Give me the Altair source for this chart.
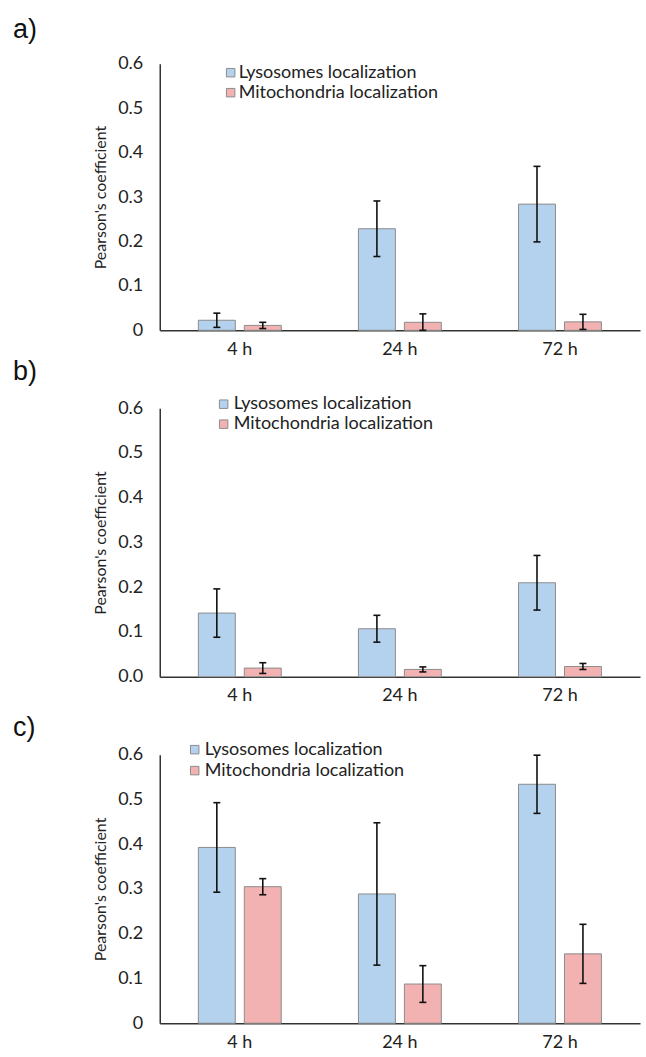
import altair as alt
import pandas as pd

times = ["4 h", "24 h", "72 h"]
series = ["Lysosomes localization", "Mitochondria localization"]
panel_labels = ["a)", "b)", "c)"]

a_lyso = [0.0226, 0.2286, 0.284]
a_lyso_err = [0.016, 0.0625, 0.085]
a_mito = [0.011, 0.018, 0.019]
a_mito_err = [0.007, 0.019, 0.017]

b_lyso = [0.1423, 0.1073, 0.210]
b_lyso_err = [0.054, 0.030, 0.061]
b_mito = [0.0194, 0.0164, 0.023]
b_mito_err = [0.012, 0.0056, 0.0067]

c_lyso = [0.3927, 0.2888, 0.5338]
c_lyso_err = [0.100, 0.159, 0.065]
c_mito = [0.305, 0.0876, 0.155]
c_mito_err = [0.018, 0.041, 0.066]

y_ticks = [0, 0.1, 0.2, 0.3, 0.4, 0.5, 0.6]

BLUE = "#b4d2ee"
RED = "#f3b2b2"
EDGE = "#8c8c8c"
FONT = "Lato"


def panel(label, lyso, lyso_err, mito, mito_err, h, zero_fmt, leg, lab_y):
    rows = []
    for i, t in enumerate(times):
        rows.append({"time": t, "series": series[0], "value": lyso[i], "err": lyso_err[i]})
        rows.append({"time": t, "series": series[1], "value": mito[i], "err": mito_err[i]})
    df = pd.DataFrame(rows)
    df["lo"] = (df["value"] - df["err"]).clip(lower=0)
    df["hi"] = df["value"] + df["err"]

    x = alt.X("time:N", sort=times, scale=alt.Scale(paddingInner=0, paddingOuter=0),
              axis=alt.Axis(title=None, labelAngle=0, labelPadding=10))
    xo = alt.XOffset("series:N", sort=series,
                     scale=alt.Scale(paddingInner=0.196, paddingOuter=0.84))
    yscale = alt.Scale(domain=[0, 0.6], nice=False)
    if zero_fmt:
        lexpr = "datum.value == 0 ? '0' : format(datum.value, '.1f')"
    else:
        lexpr = "format(datum.value, '.1f')"
    yaxis = alt.Axis(values=y_ticks, labelExpr=lexpr, title="Pearson's coefficient",
                     labelPadding=17, titlePadding=9)

    base = alt.Chart(df)
    bars = base.mark_bar(stroke=EDGE, strokeWidth=1).encode(
        x=x, xOffset=xo,
        y=alt.Y("value:Q", scale=yscale, axis=yaxis),
        color=alt.Color("series:N", scale=alt.Scale(domain=series, range=[BLUE, RED]), legend=None),
    )
    rules = base.mark_rule(color="#111111", strokeWidth=1.6).encode(
        x=x, xOffset=xo, y=alt.Y("lo:Q", scale=yscale), y2="hi:Q")
    cap_lo = base.mark_tick(orient="horizontal", size=7, thickness=1.6, color="#111111", opacity=1).encode(
        x=x, xOffset=xo, y=alt.Y("lo:Q", scale=yscale))
    cap_hi = base.mark_tick(orient="horizontal", size=7, thickness=1.6, color="#111111", opacity=1).encode(
        x=x, xOffset=xo, y=alt.Y("hi:Q", scale=yscale))

    layers = [bars, rules, cap_lo, cap_hi]
    sx, tx, y1, y2 = leg
    for name, col, yy in [(series[0], BLUE, y1), (series[1], RED, y2)]:
        d = pd.DataFrame({"t": [name]})
        layers.append(alt.Chart(d).mark_square(size=72, fill=col, stroke=EDGE, strokeWidth=1, opacity=1).encode(
            x=alt.value(sx), y=alt.value(yy)))
        layers.append(alt.Chart(d).mark_text(align="left", baseline="middle", font=FONT, fontSize=18,
                                             color="#222222").encode(
            x=alt.value(tx), y=alt.value(yy), text="t:N"))
    dl = pd.DataFrame({"t": [label]})
    layers.append(alt.Chart(dl).mark_text(align="left", baseline="alphabetic", font="Liberation Sans",
                                          fontSize=27, color="#111111").encode(
        x=alt.value(-147), y=alt.value(lab_y), text="t:N"))
    return alt.layer(*layers).properties(width=481, height=h)


pa = panel(panel_labels[0], a_lyso, a_lyso_err, a_mito, a_mito_err, 267, True, (71, 79, 9, 29), -26)
pb = panel(panel_labels[1], b_lyso, b_lyso_err, b_mito, b_mito_err, 269, False, (64, 74, -4, 16), -28)
pc = panel(panel_labels[2], c_lyso, c_lyso_err, c_mito, c_mito_err, 269, True, (35, 45, -5, 16), -19)

chart = alt.vconcat(pa, pb, pc, spacing=78, bounds="flush").properties(
    padding={"left": 13, "top": 15, "right": 6, "bottom": 0}
).configure_view(stroke=None).configure_axis(
    domainColor="#333333", domainWidth=1.5, ticks=False, tickSize=0, grid=False,
    labelFont=FONT, labelFontSize=18, labelColor="#222222",
    titleFont=FONT, titleFontSize=16, titleFontWeight="normal", titleColor="#222222",
)

chart.save("out.html", embed_options={"renderer": "svg", "actions": False})
